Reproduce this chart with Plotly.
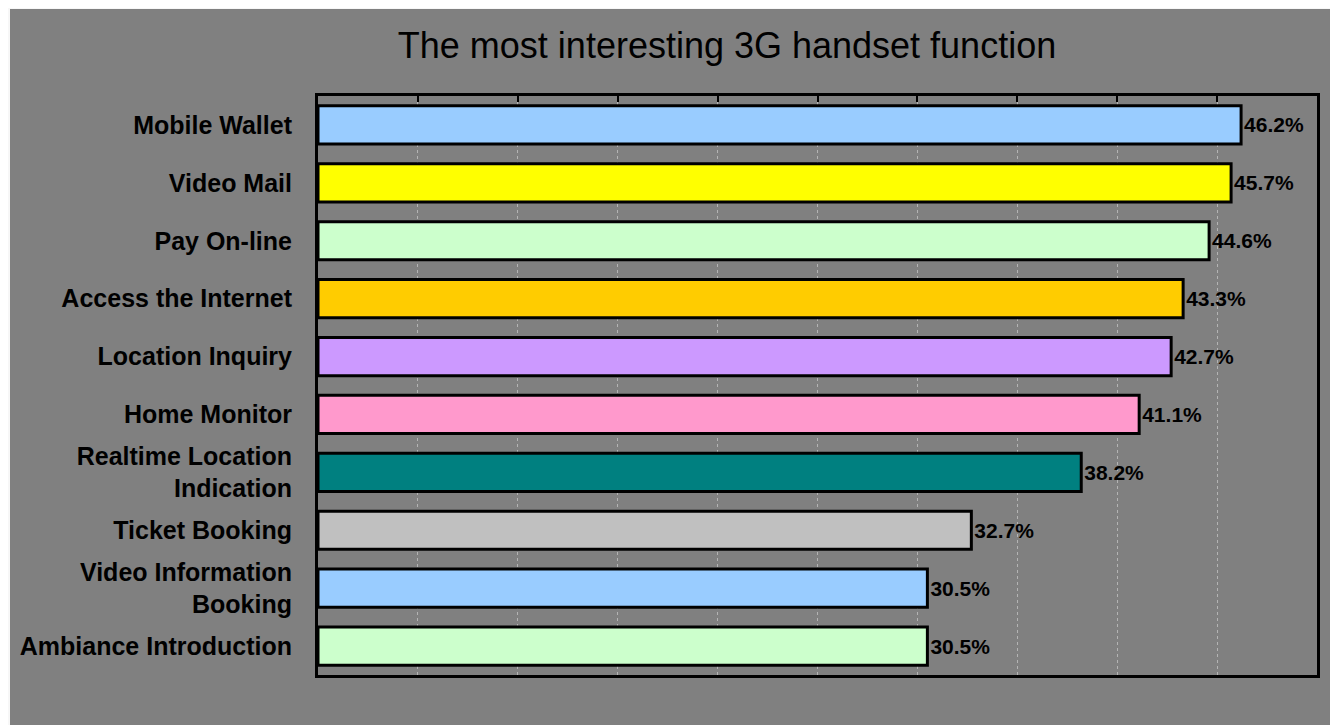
import plotly.graph_objects as go

categories = ["Mobile Wallet", "Video Mail", "Pay On-line", "Access the Internet",
              "Location Inquiry", "Home Monitor", "Realtime Location<br>Indication",
              "Ticket Booking", "Video Information<br>Booking", "Ambiance Introduction"]
values = [46.2, 45.7, 44.6, 43.3, 42.7, 41.1, 38.2, 32.7, 30.5, 30.5]
labels = ["46.2%", "45.7%", "44.6%", "43.3%", "42.7%", "41.1%", "38.2%", "32.7%", "30.5%", "30.5%"]
colors = ["#99CCFF", "#FFFF00", "#CCFFCC", "#FFCC00", "#CC99FF", "#FF99CC",
          "#008080", "#C0C0C0", "#99CCFF", "#CCFFCC"]

# page body adds an 8px offset, so the figure is sized/positioned to compensate
OFF = 8
W, H = 1338 - OFF, 725 - OFF
L, T = 318 - OFF, 96 - OFF
R = W - (1317 - OFF)
B = H - (675 - OFF)
pw, ph = W - L - R, H - T - B

fig = go.Figure(go.Bar(
    x=values, y=categories, orientation="h",
    marker=dict(color=colors, line=dict(color="black", width=3)),
    text=labels, textposition="outside", cliponaxis=False, constraintext="none",
    textfont=dict(family="Liberation Sans", size=21, color="black", weight="bold"),
    width=0.66,
))

fig.add_shape(type="rect", xref="paper", yref="paper", layer="below",
              x0=(10 - OFF - L) / pw, x1=(W - L) / pw,
              y0=-B / ph, y1=1 + (T - (9 - OFF)) / ph,
              fillcolor="#808080", line=dict(width=0))

fig.update_layout(
    width=W, height=H,
    margin=dict(l=L, r=R, t=T, b=B),
    paper_bgcolor="#f7f7f7", plot_bgcolor="#808080",
    showlegend=False,
    title=dict(text="The most interesting 3G handset function", x=(727 - OFF) / W, xanchor="center",
               y=1 - (45 - OFF) / H, yanchor="middle",
               font=dict(family="Liberation Sans", size=36, color="black")),
    xaxis=dict(range=[0, 50], dtick=5, side="top", showticklabels=False,
               ticks="inside", ticklen=6, tickwidth=2, tickcolor="black",
               showline=True, linecolor="black", linewidth=3, mirror=True,
               showgrid=True, gridcolor="#b4b4b4", griddash="dot", gridwidth=1,
               zeroline=False, fixedrange=True),
    yaxis=dict(autorange="reversed", showline=True, linecolor="black", linewidth=3,
               mirror=True, ticks="", ticklabelstandoff=18,
               tickfont=dict(family="Liberation Sans", size=25, color="black", weight="bold"),
               fixedrange=True),
)

fig.write_html("out.html")
